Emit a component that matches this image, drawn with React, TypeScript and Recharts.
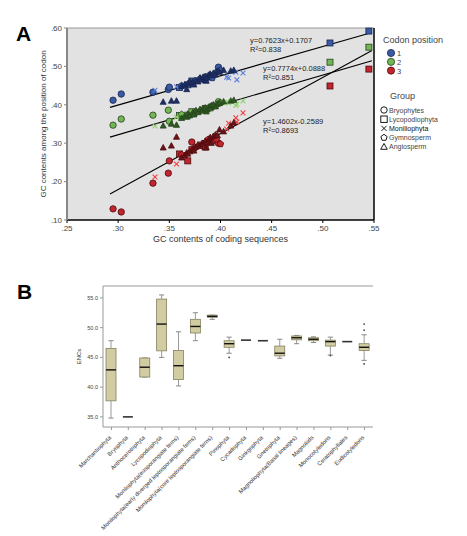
import React from 'react';
import {
  ScatterChart, Scatter, XAxis, YAxis, CartesianGrid, ReferenceLine,
  ComposedChart, Bar,
} from 'recharts';

// Panel A: each row is [GC of coding sequence, GC1, GC2, GC3]
const bryophytes = [
  [0.295, 0.412, 0.347, 0.129],
  [0.303, 0.428, 0.363, 0.121],
  [0.334, 0.433, 0.373, 0.196],
  [0.349, 0.44, 0.386, 0.222],
  [0.35, 0.446, 0.357, 0.254],
  [0.372, 0.456, 0.38, 0.303],
  [0.385, 0.47, 0.39, 0.3],
  [0.398, 0.498, 0.408, 0.3],
];
const lycopodiophyta = [
  [0.545, 0.592, 0.55, 0.493],
  [0.507, 0.561, 0.511, 0.449],
  [0.368, 0.452, 0.373, 0.254],
  [0.36, 0.445, 0.372, 0.272],
  [0.372, 0.462, 0.382, 0.283],
  [0.385, 0.465, 0.39, 0.29],
];
const moniliophyta = [
  [0.336, 0.438, 0.345, 0.212],
  [0.357, 0.447, 0.368, 0.246],
  [0.406, 0.472, 0.407, 0.337],
  [0.408, 0.47, 0.405, 0.352],
  [0.415, 0.485, 0.398, 0.366],
  [0.416, 0.465, 0.402, 0.355],
  [0.422, 0.483, 0.41, 0.379],
];
const gymnosperm = [
  [0.362, 0.45, 0.375, 0.27],
  [0.375, 0.462, 0.378, 0.288],
  [0.38, 0.468, 0.384, 0.295],
  [0.388, 0.475, 0.392, 0.31],
  [0.392, 0.47, 0.395, 0.305],
  [0.396, 0.485, 0.4, 0.31],
  [0.4, 0.49, 0.405, 0.298],
];
const angiosperm = [
  [0.344, 0.407, 0.345, 0.288],
  [0.352, 0.41, 0.35, 0.293],
  [0.357, 0.41, 0.347, 0.316],
  [0.362, 0.448, 0.365, 0.262],
  [0.365, 0.452, 0.37, 0.268],
  [0.367, 0.44, 0.368, 0.275],
  [0.368, 0.455, 0.376, 0.272],
  [0.37, 0.46, 0.372, 0.278],
  [0.373, 0.458, 0.38, 0.285],
  [0.374, 0.452, 0.374, 0.28],
  [0.376, 0.463, 0.385, 0.29],
  [0.378, 0.46, 0.38, 0.296],
  [0.38, 0.47, 0.388, 0.292],
  [0.382, 0.465, 0.385, 0.3],
  [0.383, 0.472, 0.39, 0.298],
  [0.385, 0.474, 0.392, 0.305],
  [0.386, 0.462, 0.382, 0.288],
  [0.387, 0.47, 0.387, 0.302],
  [0.389, 0.478, 0.395, 0.31],
  [0.39, 0.48, 0.39, 0.315],
  [0.391, 0.476, 0.398, 0.3],
  [0.393, 0.482, 0.4, 0.318],
  [0.395, 0.478, 0.395, 0.322],
  [0.397, 0.488, 0.402, 0.32],
  [0.399, 0.485, 0.405, 0.335],
  [0.403, 0.49, 0.408, 0.33],
  [0.41, 0.488, 0.41, 0.345],
  [0.413, 0.49, 0.412, 0.353],
];

const groups = [
  { name: 'Bryophytes', rows: bryophytes, kind: 'circle' },
  { name: 'Lycopodiophyta', rows: lycopodiophyta, kind: 'square' },
  { name: 'Moniliophyta', rows: moniliophyta, kind: 'cross' },
  { name: 'Gymnosperm', rows: gymnosperm, kind: 'pentagon' },
  { name: 'Angiosperm', rows: angiosperm, kind: 'triangle' },
];

const positions = ['1', '2', '3'];
const fitSlopes = [0.7623, 0.7774, 1.4602];
const fitIntercepts = [0.1707, 0.0888, -0.2589];
const fitEquations = ['y=0.7623x+0.1707', 'y=0.7774x+0.0888', 'y=1.4602x-0.2589'];
const fitR2 = ['R²=0.838', 'R²=0.851', 'R²=0.8693'];
const fitRange = [0.292, 0.548];

const xTicksA = [0.25, 0.3, 0.35, 0.4, 0.45, 0.5, 0.55];
const yTicksA = [0.1, 0.2, 0.3, 0.4, 0.5, 0.6];

// Panel B: box plot of ENC per lineage
const lineages = [
  'Marchantiophyta', 'Bryophyta', 'Anthocerotophyta', 'Lycopodiophyta',
  'Monilophyta(eusporangiate ferns)', 'Monilophyta(early diverged leptosporangiate ferns)',
  'Monilophyta(core leptosporangiate ferns)', 'Pinophyta', 'Cycadophyta', 'Ginkgophyta',
  'Gnetophyta', 'Magnoliophyta(Basal lineages)', 'Magnoliids', 'Monocotyledons',
  'Ceratophyllales', 'Eudicotyledons',
];
const whiskerLow = [34.8, 35.0, 41.7, 45.0, 40.2, 47.8, 51.4, 45.7, 47.9, 47.8, 44.85, 47.3, 47.5, 45.4, 47.65, 44.5];
const quart1 = [37.7, 35.0, 41.7, 46.1, 41.3, 49.1, 51.75, 46.7, 47.9, 47.8, 45.25, 47.95, 47.8, 46.9, 47.65, 46.15];
const medians = [42.9, 35.0, 43.35, 50.6, 43.6, 50.2, 51.9, 47.3, 47.9, 47.8, 45.7, 48.3, 48.05, 47.65, 47.65, 46.7];
const quart3 = [46.5, 35.0, 44.9, 54.8, 46.15, 51.4, 52.1, 47.8, 47.9, 47.8, 46.9, 48.6, 48.3, 47.9, 47.65, 47.3];
const whiskerHigh = [47.8, 35.0, 44.9, 55.5, 49.3, 52.5, 52.1, 48.4, 47.9, 47.8, 48.05, 48.7, 48.45, 48.4, 47.65, 48.8];
const outliers = [[], [], [], [], [], [], [], [45.0], [], [], [], [], [], [45.3], [], [50.6, 49.6, 43.9]];
const yTicksB = [35, 40, 45, 50, 55];

const boxData = lineages.map((name, i) => ({
  name,
  lo: whiskerLow[i],
  q1: quart1[i],
  med: medians[i],
  q3: quart3[i],
  hi: whiskerHigh[i],
  out: outliers[i],
}));

const FONT = '"Liberation Sans", Arial, sans-serif';
const posFill = ['#3b5aa6', '#72b656', '#c1252d'];
const posStroke = ['#17264f', '#26421a', '#4f0a0e'];
const posDark = ['#1f2f66', '#2f5a22', '#6a1418'];
const crossColor = ['#5b7fd8', '#8fd070', '#f04040'];

const Mark = ({ cx, cy, kind, pos }: any) => {
  if (cx == null || cy == null) return null;
  const fill = posFill[pos];
  const stroke = posStroke[pos];
  if (kind === 'circle') {
    return <circle cx={cx} cy={cy} r={3.2} fill={fill} stroke={stroke} strokeWidth={0.8} />;
  }
  if (kind === 'square') {
    return <rect x={cx - 3} y={cy - 3} width={6} height={6} fill={fill} stroke={stroke} strokeWidth={0.8} />;
  }
  if (kind === 'cross') {
    const s = 2.4;
    return (
      <path
        d={`M${cx - s},${cy - s}L${cx + s},${cy + s}M${cx + s},${cy - s}L${cx - s},${cy + s}`}
        stroke={crossColor[pos]} strokeWidth={1.1} fill="none"
      />
    );
  }
  if (kind === 'pentagon') {
    const r = 3.4;
    const pts = [0, 1, 2, 3, 4].map((k) => {
      const a = -Math.PI / 2 + (k * 2 * Math.PI) / 5;
      return `${cx + r * Math.cos(a)},${cy + r * Math.sin(a)}`;
    }).join(' ');
    return <polygon points={pts} fill={fill} stroke={stroke} strokeWidth={0.8} />;
  }
  // triangle
  return (
    <polygon
      points={`${cx},${cy - 3.3} ${cx + 3},${cy + 2.2} ${cx - 3},${cy + 2.2}`}
      fill={posDark[pos]} stroke={stroke} strokeWidth={0.8}
    />
  );
};

const fmtA = (v: number) => v.toFixed(2).replace(/^0/, '');

const PanelA = () => (
  <div style={{ position: 'absolute', left: 0, top: 0 }}>
    <ScatterChart width={467} height={252} margin={{ top: 28, right: 93, bottom: 0, left: 43 }}>
      <CartesianGrid fill="#e2e2e2" horizontal={false} vertical={false} />
      <XAxis
        type="number" dataKey="x" domain={[0.25, 0.55]} ticks={xTicksA} tickFormatter={fmtA}
        height={32} tickSize={3} tick={{ fontSize: 8, fill: '#444', fontFamily: FONT }}
        axisLine={{ stroke: '#000', strokeWidth: 1.5 }} tickLine={{ stroke: '#000' }}
        label={{ value: 'GC contents of coding sequences', position: 'insideBottom', offset: 10, fontSize: 9, fill: '#333', fontFamily: FONT }}
      />
      <YAxis
        type="number" dataKey="y" domain={[0.1, 0.6]} ticks={yTicksA} tickFormatter={fmtA}
        width={24} tickSize={3} tick={{ fontSize: 8, fill: '#444', fontFamily: FONT }}
        axisLine={{ stroke: '#888', strokeWidth: 2 }} tickLine={{ stroke: '#888' }}
        label={{ value: 'GC contents among the position of codon', angle: -90, position: 'insideLeft', offset: 0, fontSize: 8, fill: '#333', fontFamily: FONT, style: { textAnchor: 'middle' } }}
      />
      <ReferenceLine y={0.6} stroke="#999" strokeWidth={1.2} />
      <ReferenceLine x={0.55} stroke="#000" strokeWidth={1.5} />
      {groups.map((g) =>
        positions.map((p, pi) => (
          <Scatter
            key={`${g.name}-${p}`}
            data={g.rows.map((r) => ({ x: r[0], y: r[pi + 1] }))}
            isAnimationActive={false}
            shape={(props: any) => <Mark {...props} kind={g.kind} pos={pi} />}
          />
        ))
      )}
      {positions.map((p, pi) => (
        <ReferenceLine
          key={`fit-${p}`}
          segment={[
            { x: fitRange[0], y: fitSlopes[pi] * fitRange[0] + fitIntercepts[pi] },
            { x: fitRange[1], y: fitSlopes[pi] * fitRange[1] + fitIntercepts[pi] },
          ]}
          stroke="#000" strokeWidth={1.1}
        />
      ))}
    </ScatterChart>
  </div>
);

const eqPos = [
  { x: 250, y: 43 },
  { x: 263, y: 71 },
  { x: 263, y: 124 },
];

const OverlayA = () => (
  <svg width={467} height={252} style={{ position: 'absolute', left: 0, top: 0, pointerEvents: 'none' }}>
    <text x={16} y={41} fontSize={21} fontWeight="bold" fontFamily={FONT} fill="#000">A</text>
    {fitEquations.map((eq, i) => (
      <g key={eq} fontFamily={FONT} fontSize={7.5} fill="#222">
        <text x={eqPos[i].x} y={eqPos[i].y}>{eq}</text>
        <text x={eqPos[i].x} y={eqPos[i].y + 8.5}>{fitR2[i]}</text>
      </g>
    ))}
    <text x={383} y={43} fontSize={9} fontFamily={FONT} fill="#444">Codon position</text>
    {positions.map((p, i) => (
      <g key={p}>
        <circle cx={391} cy={53 + i * 8.8} r={3.6} fill={posFill[i]} stroke={posStroke[i]} strokeWidth={0.8} />
        <text x={397} y={56 + i * 8.8} fontSize={7.5} fontFamily={FONT} fill="#444">{p}</text>
      </g>
    ))}
    <text x={390} y={99} fontSize={9} fontFamily={FONT} fill="#444">Group</text>
    {groups.map((g, i) => {
      const cy = 110 + i * 9.2;
      const cx = 384;
      let sym: React.ReactNode;
      if (g.kind === 'circle') sym = <circle cx={cx} cy={cy} r={3.2} fill="none" stroke="#000" strokeWidth={0.9} />;
      else if (g.kind === 'square') sym = <rect x={cx - 3.2} y={cy - 3.2} width={6.4} height={6.4} fill="none" stroke="#000" strokeWidth={0.9} />;
      else if (g.kind === 'cross') sym = <path d={`M${cx - 2.6},${cy - 2.6}L${cx + 2.6},${cy + 2.6}M${cx + 2.6},${cy - 2.6}L${cx - 2.6},${cy + 2.6}`} stroke="#000" strokeWidth={0.9} />;
      else if (g.kind === 'pentagon') {
        const pts = [0, 1, 2, 3, 4].map((k) => {
          const a = -Math.PI / 2 + (k * 2 * Math.PI) / 5;
          return `${cx + 3.3 * Math.cos(a)},${cy + 3.3 * Math.sin(a)}`;
        }).join(' ');
        sym = <polygon points={pts} fill="none" stroke="#000" strokeWidth={0.9} />;
      } else sym = <polygon points={`${cx},${cy - 3.3} ${cx + 3.3},${cy + 2.5} ${cx - 3.3},${cy + 2.5}`} fill="none" stroke="#000" strokeWidth={0.9} />;
      return (
        <g key={g.name}>
          {sym}
          <text x={389} y={cy + 2.6} fontSize={7} fontFamily={FONT} fill={g.kind === 'cross' ? '#111' : '#444'}>{g.name}</text>
        </g>
      );
    })}
  </svg>
);

const BoxShape = (props: any) => {
  const { x, y, width, height, payload } = props;
  if (x == null || y == null) return null;
  const { lo, hi, q1, med, q3, out } = payload;
  const cx = x + width / 2;
  const span = hi - lo;
  const toY = (v: number) => (span === 0 ? y : y + ((hi - v) / span) * height);
  if (span === 0) {
    return <line x1={x} x2={x + width} y1={y} y2={y} stroke="#333" strokeWidth={1.6} />;
  }
  const cap = 2.6;
  return (
    <g>
      <line x1={cx} x2={cx} y1={toY(hi)} y2={toY(q3)} stroke="#999" strokeWidth={1} />
      <line x1={cx} x2={cx} y1={toY(q1)} y2={toY(lo)} stroke="#999" strokeWidth={1} />
      <line x1={cx - cap} x2={cx + cap} y1={toY(hi)} y2={toY(hi)} stroke="#888" strokeWidth={1} />
      <line x1={cx - cap} x2={cx + cap} y1={toY(lo)} y2={toY(lo)} stroke="#888" strokeWidth={1} />
      <rect x={x} y={toY(q3)} width={width} height={Math.max(toY(q1) - toY(q3), 1)} fill="#d2cca2" stroke="#85815f" strokeWidth={0.8} />
      <line x1={x} x2={x + width} y1={toY(med)} y2={toY(med)} stroke="#111" strokeWidth={1.4} />
      {out.map((v: number, k: number) => (
        <circle key={k} cx={cx} cy={toY(v)} r={0.9} fill="#444" />
      ))}
    </g>
  );
};

const RotTick = ({ x, y, payload }: any) => (
  <text
    x={x} y={y + 6} transform={`rotate(-45, ${x}, ${y + 6})`} textAnchor="end"
    fontSize={5.8} fontFamily={FONT} fill="#333"
  >
    {payload.value}
  </text>
);

const PanelB = () => (
  <div style={{ position: 'absolute', left: 0, top: 270 }}>
    <ComposedChart width={467} height={266} data={boxData} margin={{ top: 16, right: 94, bottom: 0, left: 73 }}>
      <XAxis
        dataKey="name" interval={0} height={109} tickSize={3}
        tick={<RotTick />} axisLine={{ stroke: '#999' }} tickLine={{ stroke: '#999' }}
      />
      <YAxis
        type="number" domain={[33.3, 57]} ticks={yTicksB} tickFormatter={(v: number) => v.toFixed(1)}
        width={30} tickSize={3} tick={{ fontSize: 5.5, fill: '#444', fontFamily: FONT }}
        axisLine={{ stroke: '#999' }} tickLine={{ stroke: '#999' }}
        label={{ value: 'ENCs', angle: -90, position: 'insideLeft', offset: 6, fontSize: 6, fill: '#333', fontFamily: FONT, style: { textAnchor: 'middle' } }}
      />
      <YAxis yAxisId="r" orientation="right" domain={[33.3, 57]} width={0} tick={false} axisLine={{ stroke: '#999' }} />
      <ReferenceLine y={57} stroke="#999" />
      <Bar
        dataKey={(d: any) => [d.lo, d.hi]}
        barSize={10}
        isAnimationActive={false}
        shape={(props: any) => <BoxShape {...props} />}
      />
    </ComposedChart>
    <svg width={40} height={40} style={{ position: 'absolute', left: 0, top: 0 }}>
      <text x={17} y={29} fontSize={21} fontWeight="bold" fontFamily={FONT} fill="#000">B</text>
    </svg>
  </div>
);

export default function App() {
  return (
    <div style={{ position: 'absolute', left: 0, top: 0, width: 467, height: 536, background: '#fff', overflow: 'hidden' }}>
      <PanelA />
      <PanelB />
      <OverlayA />
    </div>
  );
}
